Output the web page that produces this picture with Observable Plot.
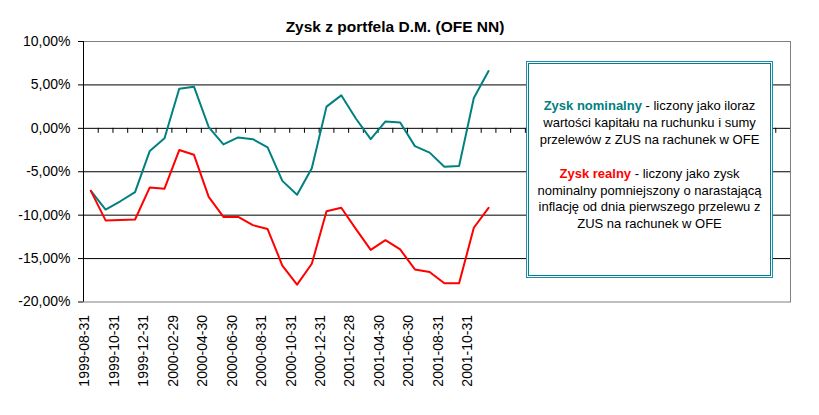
<!DOCTYPE html>
<html>
<head>
<meta charset="utf-8">
<script src="https://cdn.jsdelivr.net/npm/d3@7"></script>
<script src="https://cdn.jsdelivr.net/npm/@observablehq/plot@0.6"></script>
<style>
  body { margin: 0; background: #fff; font-family: "Liberation Sans", Arial, sans-serif; }
  #wrap { position: relative; width: 819px; height: 415px; }
  #title { position: absolute; left: 0; width: 790px; top: 18px; text-align: center;
           font-weight: bold; font-size: 15.5px; line-height: 17px; color: #000; }
  #box { position: absolute; left: 526px; top: 61px; width: 247px; height: 217px;
         box-sizing: border-box; border: 1px solid #1a8cb5; background: #fff; }
  #boxInner { position: absolute; left: 1px; top: 1px; right: 1px; bottom: 1px;
              border: 1px solid #008080; }
  #boxText { position: absolute; left: 0; right: 0; top: 36px; text-align: center;
             font-size: 13px; line-height: 16.9px; color: #000; }
  .nom { color: #008080; font-weight: bold; }
  .rea { color: #ff0000; font-weight: bold; }
</style>
</head>
<body>
<div id="wrap">
  <div id="chart"></div>
  <div id="title">Zysk z portfela D.M. (OFE NN)</div>
  <div id="box"><div id="boxInner"></div>
    <div id="boxText">
      <span class="nom">Zysk nominalny</span> - liczony jako iloraz<br>
      wartości kapitału na ruchunku i sumy<br>
      przelewów z ZUS na rachunek w OFE<br>
      <br>
      <span class="rea">Zysk realny</span> - liczony jako zysk<br>
      nominalny pomniejszony o narastającą<br>
      inflację od dnia pierwszego przelewu z<br>
      ZUS na rachunek w OFE
    </div>
  </div>
</div>
<script>
const dates = [
  "1999-08-31","1999-09-30","1999-10-31","1999-11-30","1999-12-31",
  "2000-01-31","2000-02-29","2000-03-31","2000-04-30","2000-05-31","2000-06-30",
  "2000-07-31","2000-08-31","2000-09-30","2000-10-31","2000-11-30","2000-12-31",
  "2001-01-31","2001-02-28","2001-03-31","2001-04-30","2001-05-31","2001-06-30",
  "2001-07-31","2001-08-31","2001-09-30","2001-10-31","2001-11-30"
];
const nominal = [-7.2, -9.35, -8.4, -7.35, -2.6, -1.15, 4.55, 4.8, 0.15, -1.85, -1.05, -1.25, -2.2, -6.05,
                 -7.65, -4.6, 2.5, 3.8, 1.1, -1.25, 0.8, 0.68, -2.05, -2.8, -4.42, -4.35, 3.5, 6.6];
const real = [-7.2, -10.6, -10.55, -10.5, -6.8, -6.95, -2.5, -3.05, -7.9, -10.2, -10.2, -11.15, -11.6, -15.8,
              -18.0, -15.6, -9.55, -9.15, -11.6, -14.0, -12.88, -13.95, -16.25, -16.55, -17.85, -17.85, -11.45, -9.15];
const nCategories = 48;
const yTicks = [-20, -15, -10, -5, 0, 5, 10];
const gridValues = [-15, -10, -5, 5];

const rows = dates.map((d, i) => ({i, date: d, nominal: nominal[i], real: real[i]}));

const W = 819, H = 415, mL = 83, mR = 29, mT = 41, mB = 113.5;
const pxPerUnit = (H - mT - mB) / 30;
const tickLen = 5 / pxPerUnit;
const fmt = d => d.toFixed(2).replace(".", ",") + "%";

const chart = Plot.plot({
  width: W, height: H,
  marginLeft: mL, marginRight: mR, marginTop: mT, marginBottom: mB,
  style: {fontFamily: "Liberation Sans, Arial, sans-serif", fontSize: "14px", background: "white", color: "black"},
  x: {domain: [0, nCategories], axis: null},
  y: {domain: [-20, 10], axis: null},
  marks: [
    Plot.ruleY(gridValues, {stroke: "black", strokeWidth: 1}),
    Plot.frame({stroke: "#808080"}),
    Plot.ruleY([0], {stroke: "black"}),
    Plot.ruleX(d3.range(1, nCategories), {y1: 0, y2: -tickLen, stroke: "black"}),
    Plot.ruleX([0], {stroke: "black"}),
    Plot.axisY(yTicks, {tickSize: 5, tickPadding: 8, tickFormat: fmt, label: null, stroke: "black", fill: "black", fontSize: 14}),
    Plot.line(rows, {x: d => d.i + 0.5, y: "nominal", stroke: "#008080", strokeWidth: 2}),
    Plot.line(rows, {x: d => d.i + 0.5, y: "real", stroke: "#ff0000", strokeWidth: 2}),
    Plot.text(rows.filter(d => d.i % 2 === 0), {
      x: d => d.i + 0.5, frameAnchor: "bottom", text: "date", rotate: -90,
      textAnchor: "end", dy: 13, dx: -1.5, fontSize: 14, fill: "black"
    })
  ]
});
document.getElementById("chart").appendChild(chart);
</script>
</body>
</html>
